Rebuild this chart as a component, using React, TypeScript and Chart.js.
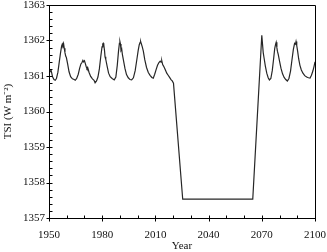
import React, { useEffect, useRef } from "react";
import { Chart, registerables } from "chart.js";

Chart.register(...registerables);

const years: number[] = [
  1950, 1950.6, 1951.2, 1952, 1952.8, 1953.5, 1954.2, 1955, 1955.8, 1956.5, 1957.1, 1957.5, 1957.8, 1958.2, 1958.6, 1959, 1959.4, 1959.8, 1960.5, 1961.3, 1962.2, 1963.2, 1964.2, 1964.8,
  1965.6, 1966.5, 1967.3, 1968, 1968.6, 1969.1, 1969.5, 1970, 1970.5, 1971, 1971.4, 1971.8, 1972.6, 1973.5, 1974.5, 1975.4, 1976, 1976.8,
  1977.6, 1978.4, 1979.2, 1979.9, 1980.3, 1980.6, 1980.9, 1981.3, 1981.6, 1982, 1982.8, 1983.6, 1984.5, 1985.6, 1986.8,
  1987.7, 1988.5, 1989.2, 1989.7, 1990, 1990.3, 1990.6, 1991, 1991.4, 1992, 1992.8, 1993.7, 1994.7, 1995.7, 1996.6,
  1997.6, 1998.6, 1999.5, 2000.3, 2000.9, 2001.4, 2001.7, 2002.1, 2002.6, 2003.2, 2004, 2005, 2006, 2007, 2008, 2008.8,
  2009.6, 2010.4, 2011.2, 2012, 2012.7, 2013.2, 2013.6, 2014.1, 2014.6, 2015.2, 2015.7, 2016.4, 2017.2, 2018, 2018.8, 2019.5, 2020.2,
  2025.4, 2064.9,
  2070, 2070.4, 2070.8, 2071.3, 2072, 2072.8, 2073.6, 2074.3, 2075.1, 2075.9, 2076.7, 2077.3, 2077.8, 2078.1, 2078.5, 2078.8, 2079.3, 2080, 2080.8, 2081.7, 2082.6, 2083.5, 2084.4,
  2085.3, 2086.2, 2087, 2087.8, 2088.5, 2089, 2089.3, 2089.7, 2090.2, 2090.8, 2091.5, 2092.3, 2093.2, 2094.2, 2095.3, 2096.3, 2097.2, 2098, 2098.8, 2099.5, 2100,
];

const tsi: number[] = [
  1361.22, 1361.12, 1361.16, 1360.98, 1360.9, 1360.88, 1360.93, 1361.1, 1361.4, 1361.65, 1361.84, 1361.9, 1361.86, 1361.92, 1361.78, 1361.66, 1361.56, 1361.52, 1361.34, 1361.12, 1360.98, 1360.92, 1360.9, 1360.88,
  1360.93, 1361.05, 1361.22, 1361.34, 1361.38, 1361.44, 1361.4, 1361.43, 1361.35, 1361.26, 1361.21, 1361.24, 1361.1, 1360.99, 1360.92, 1360.88, 1360.81, 1360.86,
  1360.97, 1361.2, 1361.55, 1361.82, 1361.9, 1361.92, 1361.88, 1361.72, 1361.54, 1361.47, 1361.27, 1361.08, 1360.98, 1360.93, 1360.89,
  1360.97, 1361.3, 1361.7, 1361.92, 1361.97, 1361.9, 1361.72, 1361.76, 1361.6, 1361.44, 1361.22, 1361.04, 1360.95, 1360.9, 1360.89,
  1360.95, 1361.15, 1361.45, 1361.72, 1361.88, 1361.95, 1361.97, 1361.9, 1361.82, 1361.7, 1361.46, 1361.24, 1361.1, 1361.02, 1360.96, 1360.94,
  1361.05, 1361.18, 1361.3, 1361.38, 1361.42, 1361.39, 1361.43, 1361.32, 1361.28, 1361.22, 1361.16, 1361.08, 1361.02, 1360.96, 1360.9, 1360.86, 1360.8,
  1357.53, 1357.53,
  1362.15, 1361.9, 1361.66, 1361.5, 1361.28, 1361.08, 1360.95, 1360.89, 1360.93, 1361.15, 1361.5, 1361.78, 1361.9, 1361.95, 1361.8, 1361.7, 1361.6, 1361.42, 1361.22, 1361.06, 1360.96, 1360.9, 1360.86,
  1360.93, 1361.14, 1361.45, 1361.75, 1361.92, 1361.9, 1361.97, 1361.86, 1361.7, 1361.48, 1361.3, 1361.17, 1361.08, 1361.01, 1360.97, 1360.95, 1360.94, 1361.02, 1361.14, 1361.28, 1361.4,
];

const xTickLabels: number[] = [1950, 1980, 2010, 2040, 2070, 2100];
const yTickLabels: number[] = [1357, 1358, 1359, 1360, 1361, 1362, 1363];

const FONT = "'Liberation Serif', 'Times New Roman', serif";

const frameTicks = {
  id: "frameTicks",
  afterDraw(chart: any) {
    const { ctx, chartArea } = chart;
    const xs = chart.scales.x;
    const ys = chart.scales.y;
    const L = Math.round(chartArea.left) + 0.5;
    const R = Math.round(chartArea.right) + 0.5;
    const T = Math.round(chartArea.top) + 0.5;
    const B = Math.round(chartArea.bottom) + 0.5;
    ctx.save();
    ctx.strokeStyle = "#000";
    ctx.lineWidth = 1;
    ctx.beginPath();
    ctx.rect(L, T, R - L, B - T);
    for (let v = xs.min; v <= xs.max + 1e-6; v += 10) {
      const px = Math.round(xs.getPixelForValue(v)) + 0.5;
      const major = xTickLabels.includes(Math.round(v));
      ctx.moveTo(px, major ? B + 3 : B);
      ctx.lineTo(px, B - 3);
    }
    for (let i = 0; i <= 30; i++) {
      const v = ys.min + i * 0.2;
      const py = Math.round(ys.getPixelForValue(v)) + 0.5;
      const major = i % 5 === 0;
      ctx.moveTo(major ? L - 3 : L, py);
      ctx.lineTo(L + 3, py);
    }
    ctx.stroke();
    ctx.restore();
  },
};

function zeroPad(s: any) {
  s.paddingTop = 0;
  s.paddingBottom = 0;
  s.paddingLeft = 0;
  s.paddingRight = 0;
}

export default function App() {
  const ref = useRef<HTMLCanvasElement | null>(null);
  useEffect(() => {
    if (!ref.current) return;
    const points = years.map((y, i) => ({ x: y, y: tsi[i] }));
    const chart = new Chart(ref.current, {
      type: "line",
      data: {
        datasets: [
          {
            data: points,
            borderColor: "#262626",
            borderWidth: 1.2,
            pointRadius: 0,
            tension: 0,
            fill: false,
          },
        ],
      },
      options: {
        animation: false,
        responsive: false,
        devicePixelRatio: 1,
        layout: { padding: { top: 5, right: 12, left: 0, bottom: 0 } },
        plugins: { legend: { display: false }, tooltip: { enabled: false } },
        scales: {
          x: {
            type: "linear",
            min: 1950,
            max: 2100,
            afterFit: (s: any) => {
              s.height = 34;
              zeroPad(s);
            },
            afterBuildTicks: (s: any) => {
              s.ticks = xTickLabels.map((v) => ({ value: v }));
            },
            grid: { display: false, drawTicks: false },
            border: { display: false },
            ticks: {
              color: "#111",
              font: { family: FONT, size: 11 },
              padding: 11,
              maxRotation: 0,
              autoSkip: false,
              callback: (v: any) => String(v),
            },
            title: {
              display: true,
              text: "Year",
              color: "#111",
              font: { family: FONT, size: 11, lineHeight: 1 },
              padding: { top: 0, bottom: 0 },
            },
          },
          y: {
            min: 1357,
            max: 1363,
            afterFit: (s: any) => {
              s.width = 49;
              zeroPad(s);
            },
            afterBuildTicks: (s: any) => {
              s.ticks = yTickLabels.map((v) => ({ value: v }));
            },
            grid: { display: false, drawTicks: false },
            border: { display: false },
            ticks: {
              color: "#111",
              font: { family: FONT, size: 11 },
              padding: 4,
              autoSkip: false,
              callback: (v: any) => String(v),
            },
            title: {
              display: true,
              text: "TSI (W m\u207B\u00B2)",
              color: "#111",
              font: { family: FONT, size: 11, lineHeight: 1.2 },
              padding: { top: 2, bottom: 0 },
            },
          },
        },
      },
      plugins: [frameTicks],
    });
    return () => chart.destroy();
  }, []);
  return (
    <div style={{ position: "fixed", left: 0, top: 0, width: 327, height: 252, background: "#fff" }}>
      <canvas ref={ref} width={327} height={252} style={{ width: 327, height: 252, display: "block" }} />
    </div>
  );
}
